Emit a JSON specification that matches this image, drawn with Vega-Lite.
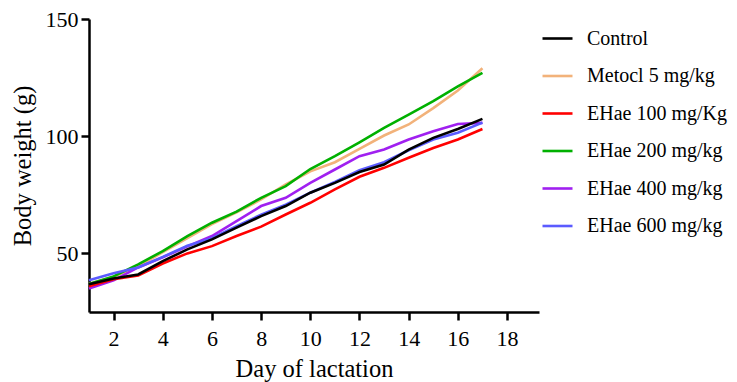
{
  "$schema": "https://vega.github.io/schema/vega-lite/v6.json",
  "width": 450,
  "height": 293,
  "autosize": "none",
  "padding": {"left": 89, "top": 19, "right": 198, "bottom": 70},
  "background": "white",
  "config": {
    "view": {"stroke": null},
    "font": "Liberation Serif",
    "axis": {"grid": false, "domainColor": "black", "domainWidth": 2.5, "tickColor": "black", "tickWidth": 2.5, "tickSize": 8, "labelFont": "Liberation Serif", "labelFontSize": 22, "labelColor": "black", "titleFont": "Liberation Serif", "titleFontSize": 24.5, "titleFontWeight": "normal", "titleColor": "black"}
  },
  "data": {"values": [
    {"g":"Metocl 5 mg/kg","d":1,"w":37},{"g":"Metocl 5 mg/kg","d":2,"w":40},{"g":"Metocl 5 mg/kg","d":3,"w":44.5},{"g":"Metocl 5 mg/kg","d":4,"w":50.5},{"g":"Metocl 5 mg/kg","d":5,"w":56.5},{"g":"Metocl 5 mg/kg","d":6,"w":62.5},{"g":"Metocl 5 mg/kg","d":7,"w":67.5},{"g":"Metocl 5 mg/kg","d":8,"w":73},{"g":"Metocl 5 mg/kg","d":9,"w":79.4},{"g":"Metocl 5 mg/kg","d":10,"w":85},{"g":"Metocl 5 mg/kg","d":11,"w":88.9},{"g":"Metocl 5 mg/kg","d":12,"w":94.6},{"g":"Metocl 5 mg/kg","d":13,"w":100.3},{"g":"Metocl 5 mg/kg","d":14,"w":105},{"g":"Metocl 5 mg/kg","d":15,"w":112},{"g":"Metocl 5 mg/kg","d":16,"w":119.5},{"g":"Metocl 5 mg/kg","d":17,"w":129},
    {"g":"EHae 200 mg/kg","d":1,"w":37},{"g":"EHae 200 mg/kg","d":2,"w":40.2},{"g":"EHae 200 mg/kg","d":3,"w":45.3},{"g":"EHae 200 mg/kg","d":4,"w":51},{"g":"EHae 200 mg/kg","d":5,"w":57.4},{"g":"EHae 200 mg/kg","d":6,"w":63.1},{"g":"EHae 200 mg/kg","d":7,"w":67.8},{"g":"EHae 200 mg/kg","d":8,"w":73.7},{"g":"EHae 200 mg/kg","d":9,"w":78.7},{"g":"EHae 200 mg/kg","d":10,"w":86},{"g":"EHae 200 mg/kg","d":11,"w":91.5},{"g":"EHae 200 mg/kg","d":12,"w":97.4},{"g":"EHae 200 mg/kg","d":13,"w":103.6},{"g":"EHae 200 mg/kg","d":14,"w":109.2},{"g":"EHae 200 mg/kg","d":15,"w":115},{"g":"EHae 200 mg/kg","d":16,"w":121.3},{"g":"EHae 200 mg/kg","d":17,"w":127},
    {"g":"EHae 400 mg/kg","d":1,"w":35},{"g":"EHae 400 mg/kg","d":2,"w":38.5},{"g":"EHae 400 mg/kg","d":3,"w":44},{"g":"EHae 400 mg/kg","d":4,"w":48.3},{"g":"EHae 400 mg/kg","d":5,"w":53},{"g":"EHae 400 mg/kg","d":6,"w":57.4},{"g":"EHae 400 mg/kg","d":7,"w":63.8},{"g":"EHae 400 mg/kg","d":8,"w":70.2},{"g":"EHae 400 mg/kg","d":9,"w":73.7},{"g":"EHae 400 mg/kg","d":10,"w":80.1},{"g":"EHae 400 mg/kg","d":11,"w":85.8},{"g":"EHae 400 mg/kg","d":12,"w":91.5},{"g":"EHae 400 mg/kg","d":13,"w":94.3},{"g":"EHae 400 mg/kg","d":14,"w":98.6},{"g":"EHae 400 mg/kg","d":15,"w":102.1},{"g":"EHae 400 mg/kg","d":16,"w":105.2},{"g":"EHae 400 mg/kg","d":17,"w":105.7},
    {"g":"EHae 100 mg/Kg","d":1,"w":36},{"g":"EHae 100 mg/Kg","d":2,"w":39},{"g":"EHae 100 mg/Kg","d":3,"w":40.6},{"g":"EHae 100 mg/Kg","d":4,"w":45.7},{"g":"EHae 100 mg/Kg","d":5,"w":50},{"g":"EHae 100 mg/Kg","d":6,"w":53.1},{"g":"EHae 100 mg/Kg","d":7,"w":57.4},{"g":"EHae 100 mg/Kg","d":8,"w":61.4},{"g":"EHae 100 mg/Kg","d":9,"w":66.6},{"g":"EHae 100 mg/Kg","d":10,"w":71.6},{"g":"EHae 100 mg/Kg","d":11,"w":77.3},{"g":"EHae 100 mg/Kg","d":12,"w":82.7},{"g":"EHae 100 mg/Kg","d":13,"w":86.5},{"g":"EHae 100 mg/Kg","d":14,"w":90.8},{"g":"EHae 100 mg/Kg","d":15,"w":95},{"g":"EHae 100 mg/Kg","d":16,"w":98.6},{"g":"EHae 100 mg/Kg","d":17,"w":103.1},
    {"g":"EHae 600 mg/kg","d":1,"w":38.5},{"g":"EHae 600 mg/kg","d":2,"w":41.5},{"g":"EHae 600 mg/kg","d":3,"w":44},{"g":"EHae 600 mg/kg","d":4,"w":48.5},{"g":"EHae 600 mg/kg","d":5,"w":53.3},{"g":"EHae 600 mg/kg","d":6,"w":56.5},{"g":"EHae 600 mg/kg","d":7,"w":61.6},{"g":"EHae 600 mg/kg","d":8,"w":66.5},{"g":"EHae 600 mg/kg","d":9,"w":70.8},{"g":"EHae 600 mg/kg","d":10,"w":75.9},{"g":"EHae 600 mg/kg","d":11,"w":80.5},{"g":"EHae 600 mg/kg","d":12,"w":85.5},{"g":"EHae 600 mg/kg","d":13,"w":88.9},{"g":"EHae 600 mg/kg","d":14,"w":94},{"g":"EHae 600 mg/kg","d":15,"w":98.6},{"g":"EHae 600 mg/kg","d":16,"w":101.5},{"g":"EHae 600 mg/kg","d":17,"w":105.8},
    {"g":"Control","d":1,"w":36.8},{"g":"Control","d":2,"w":39.3},{"g":"Control","d":3,"w":41},{"g":"Control","d":4,"w":46.7},{"g":"Control","d":5,"w":51.7},{"g":"Control","d":6,"w":56},{"g":"Control","d":7,"w":61},{"g":"Control","d":8,"w":65.9},{"g":"Control","d":9,"w":70.2},{"g":"Control","d":10,"w":75.9},{"g":"Control","d":11,"w":80.1},{"g":"Control","d":12,"w":84.7},{"g":"Control","d":13,"w":87.9},{"g":"Control","d":14,"w":94.3},{"g":"Control","d":15,"w":99.3},{"g":"Control","d":16,"w":103.1},{"g":"Control","d":17,"w":107.4}
  ]},
  "mark": {"type": "line", "strokeWidth": 2.6, "clip": false},
  "encoding": {
    "x": {"field": "d", "type": "quantitative", "title": "Day of lactation",
      "scale": {"domain": [1, 19.3], "nice": false, "zero": false},
      "axis": {"values": [2,4,6,8,10,12,14,16,18], "labelPadding": 8, "titlePadding": 8}},
    "y": {"field": "w", "type": "quantitative", "title": "Body weight (g)",
      "scale": {"domain": [25, 150], "nice": false, "zero": false},
      "axis": {"values": [50,100,150], "labelPadding": 3, "titlePadding": 10}},
    "color": {"field": "g", "type": "nominal",
      "scale": {"domain": ["Control","Metocl 5 mg/kg","EHae 100 mg/Kg","EHae 200 mg/kg","EHae 400 mg/kg","EHae 600 mg/kg"],
                "range": ["#000000","#F2B27A","#FF0000","#00B000","#A020F0","#5B5BFF"]},
      "legend": {"title": null, "orient": "none", "legendX": 452, "legendY": 3, "symbolType": "stroke", "symbolSize": 900, "symbolStrokeWidth": 2.6, "labelFont": "Liberation Serif", "labelFontSize": 20, "labelColor": "black", "labelOffset": 13, "rowPadding": 10.5, "padding": 0, "labelLimit": 300}}
  }
}
